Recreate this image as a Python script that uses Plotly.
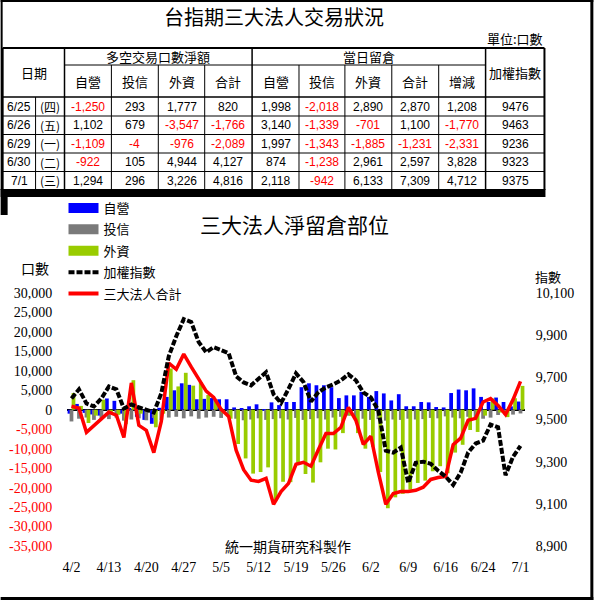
import plotly.graph_objects as go

# ---------------- data: table ----------------
tbl_dates = ["6/25", "6/26", "6/29", "6/30", "7/1"]
tbl_weekdays = ["(四)", "(五)", "(一)", "(二)", "(三)"]
net_dealer = [-1250, 1102, -1109, -922, 1294]
net_trust = [293, 679, -4, 105, 296]
net_foreign = [1777, -3547, -976, 4944, 3226]
net_total = [820, -1766, -2089, 4127, 4816]
oi_dealer = [1998, 3140, 1997, 874, 2118]
oi_trust = [-2018, -1339, -1343, -1238, -942]
oi_foreign = [2890, -701, -1885, 2961, 6133]
oi_total = [2870, 1100, -1231, 2597, 7309]
oi_change = [1208, -1770, -2331, 3828, 4712]
tbl_taiex = [9476, 9463, 9236, 9323, 9375]

# ---------------- data: chart (61 trading days, 4/2 .. 7/1) ----------------
tick_labels = ["4/2", "4/13", "4/20", "4/27", "5/5", "5/12", "5/19", "5/26",
               "6/2", "6/9", "6/16", "6/24", "7/1"]
dealer_oi = [-1000, 1500, -800, -1200, -1500, 2900, 2300, -1000, 400, -1800,
             -2600, -3600, 500, 3300, 5000, 6800, 6400, 2700, 2800, 3000,
             2700, 2700, 600, 400, 900, 1400, -200, 1900, 1200, 2000,
             2000, 5800, 6800, 6300, 6300, 5800, 3000, 3700, 3700, 4600,
             3300, 4800, 4200, 2400, 4000, 900, 900, 2000, 1900, 700,
             600, 4300, 5200, 5000, 5500, 3300, 1998, 3140, 1997, 874, 2118]
trust_oi = [-3000, -2300, -2000, -2600, -2300, -2400, -2000, -2800, -2500, -2200,
            -2700, -2100, -2600, -2000, -1800, -2200, -1700, -2300, -2000, -1800,
            -2100, -1900, -2300, -2700, -2500, -2200, -2600, -2400, -2200, -2500,
            -2100, -2600, -2400, -2200, -2500, -2000, -1800, -1500, -1900, -2300,
            -2600, -2400, -2800, -2500, -2600, -2300, -2500, -2400, -2100, -2200,
            -1700, -2000, -2200, -1800, -2000, -2300, -2018, -1339, -1343, -1238, -942]
foreign_oi = [4300, 1000, -3400, -1500, 2600, -1000, -1300, -3700, 7600, -1000,
              -500, -4500, -1000, 10600, 6000, 9500, 6200, 7100, 3800, 2500,
              -900, -2300, -8800, -12500, -16400, -16000, -14800, -23500, -18500, -18600,
              -14200, -16500, -18700, -13500, -10000, -10200, -6000, -1500, -6000, -10000,
              -9500, -16000, -25300, -22500, -21600, -20500, -18800, -18200, -15800, -14500,
              -16300, -11000, -9000, -5200, -5700, -1500, 2890, -701, -1885, 2961, 6133]
total_oi = [900, 400, -5800, -4000, -2400, -600, -1400, -7100, 6900, -4000,
            -5300, -11000, -3000, 12000, 10400, 14300, 11000, 7800, 4800, 3200,
            100, -1700, -10400, -15400, -18100, -18400, -17600, -24300, -21000, -18900,
            -14000, -13500, -14500, -10200, -6100, -6100, -4500, 600, -2700, -8900,
            -6800, -16000, -24300, -21500, -21000, -21000, -20700, -19900, -17900, -17400,
            -17100, -9000, -7300, -2700, -2200, 2000, 2870, 1100, -1231, 2597, 7309]
taiex = [9600, 9643, 9576, 9562, 9600, 9657, 9643, 9552, 9571, 9557,
         9548, 9533, 9624, 9800, 9895, 9976, 9962, 9867, 9819, 9843,
         9829, 9814, 9705, 9676, 9662, 9695, 9724, 9620, 9578, 9645,
         9719, 9678, 9585, 9630, 9652, 9667, 9686, 9714, 9686, 9628,
         9605, 9543, 9352, 9343, 9367, 9200, 9295, 9300, 9290, 9257,
         9229, 9190, 9248, 9343, 9386, 9400, 9476, 9463, 9236, 9323, 9375]

left_ticks = [30000, 25000, 20000, 15000, 10000, 5000, 0, -5000, -10000,
              -15000, -20000, -25000, -30000, -35000]

# ---------------- layout geometry ----------------
W, H = 594, 600
ML, MR, MT, MB = 66.5, 68.5, 293, 54
PW = W - ML - MR
PH = H - MT - MB

def px(x):
    return (x - ML) / PW

def py(y):
    return (H - MB - y) / PH

CJK = "Noto Sans CJK TC"
SERIF = "Liberation Serif"
SANS = "Liberation Sans"
BLUE, GRAY, GREEN, RED = "#0000FF", "#7A7A7A", "#99CC00", "#FF0000"

days = list(range(len(taiex)))

fig = go.Figure()

# legend-only entries (wide swatches like the original)
legend_items = [("自營", BLUE, 10, "solid"), ("投信", GRAY, 10, "solid"),
                ("外資", GREEN, 10, "solid"), ("加權指數", "black", 4, "6px,2px"),
                ("三大法人合計", RED, 4, "solid")]
for i, (nm, col, lw, dash) in enumerate(legend_items):
    fig.add_trace(go.Scatter(x=[None], y=[None], mode="lines", name=nm,
                             legendgroup=f"g{i}",
                             line=dict(color=col, width=lw, dash=dash)))

bw = 0.5
for vals, col, off in [(dealer_oi, BLUE, -0.27), (trust_oi, GRAY, 0.0),
                       (foreign_oi, GREEN, 0.27)]:
    fig.add_trace(go.Bar(x=days, y=vals, width=bw, offset=off - bw / 2,
                         marker=dict(color=col, line=dict(width=0)),
                         showlegend=False, hoverinfo="skip"))

fig.add_trace(go.Scatter(x=days, y=total_oi, mode="lines", showlegend=False,
                         line=dict(color=RED, width=3.5)))
fig.add_trace(go.Scatter(x=days, y=taiex, mode="lines", yaxis="y2", showlegend=False,
                         line=dict(color="black", width=4, dash="6px,2px")))

left_text = [f"{v:,}" if v >= 0 else f"<span style='color:red'>{v:,}</span>"
             for v in left_ticks]

# ---------------- table (drawn with shapes + annotations) ----------------
col_edges = [2, 35, 64, 111, 158, 204.5, 252, 299, 345, 392, 439, 486, 545]
row_edges = [97, 116, 134.5, 153, 171.5, 190]
T_TOP, T_H1 = 48, 65

shapes = []

def line(x0, y0, x1, y1, w=1, c="black"):
    shapes.append(dict(type="line", xref="paper", yref="paper",
                       x0=px(x0), y0=py(y0), x1=px(x1), y1=py(y1),
                       line=dict(color=c, width=w)))

def rect(x0, y0, x1, y1, c="black"):
    shapes.append(dict(type="rect", xref="paper", yref="paper",
                       x0=px(x0), y0=py(y0), x1=px(x1), y1=py(y1),
                       line=dict(width=0), fillcolor=c))

# outer table frame
line(col_edges[0], T_TOP, col_edges[-1], T_TOP, 2)
line(col_edges[0], T_TOP, col_edges[0], row_edges[-1], 2)
line(col_edges[-1], T_TOP, col_edges[-1], row_edges[-1], 2)
line(col_edges[2], T_H1, col_edges[11], T_H1, 1)
for k, y in enumerate(row_edges[:-1]):
    line(col_edges[0], y, col_edges[-1], y, 1.5 if k == 0 else 1)
line(col_edges[1], row_edges[0], col_edges[1], row_edges[-1], 1)
for k in (2, 6, 11):
    line(col_edges[k], T_TOP, col_edges[k], row_edges[-1], 1.5)
for k in (3, 4, 5, 7, 8, 9, 10):
    line(col_edges[k], T_H1, col_edges[k], row_edges[-1], 1)
# shadow / frame pieces
rect(0, 189, 546, 197)
rect(0, 189, 7, 215)
line(1, 0, 1, 190, 2)
line(0, 1, W, 1, 2)
line(W - 1.5, 0, W - 1.5, H, 3)
line(0, H - 1.5, W, H - 1.5, 3)

annotations = []

def ann(x, y, text, size, color="black", family=CJK, xanchor="center"):
    annotations.append(dict(x=px(x), y=py(y), xref="paper", yref="paper",
                            text=text, showarrow=False, xanchor=xanchor,
                            yanchor="middle",
                            font=dict(size=size, color=color, family=family)))

ann(274, 16, "台指期三大法人交易狀況", 20)
ann(515, 38, "單位:口數", 13)
ann(33, 72.5, "日期", 13)
ann((col_edges[2] + col_edges[6]) / 2, 56.5, "多空交易口數淨額", 13)
ann((col_edges[6] + col_edges[11]) / 2, 56.5, "當日留倉", 13)
ann((col_edges[11] + col_edges[12]) / 2, 72.5, "加權指數", 13)
sub_heads = ["自營", "投信", "外資", "合計", "自營", "投信", "外資", "合計", "增減"]
for k, t in enumerate(sub_heads):
    ann((col_edges[2 + k] + col_edges[3 + k]) / 2, 81, t, 13)

columns = [net_dealer, net_trust, net_foreign, net_total,
           oi_dealer, oi_trust, oi_foreign, oi_total, oi_change]
for r in range(len(tbl_dates)):
    yc = (row_edges[r] + row_edges[r + 1]) / 2
    ann((col_edges[0] + col_edges[1]) / 2, yc, tbl_dates[r], 12, family=SANS)
    ann((col_edges[1] + col_edges[2]) / 2, yc, tbl_weekdays[r], 12)
    for k, colvals in enumerate(columns):
        v = colvals[r]
        ann((col_edges[2 + k] + col_edges[3 + k]) / 2, yc, f"{v:,}", 12,
            color=RED if v < 0 else "black", family=SANS)
    ann((col_edges[11] + col_edges[12]) / 2, yc, str(tbl_taiex[r]), 12, family=SANS)

# chart texts
ann(294, 224, "三大法人淨留倉部位", 21)
ann(34, 268, "口數", 14)
ann(549, 276, "指數", 13)
ann(288, 546, "統一期貨研究科製作", 14)

fig.update_layout(
    width=W, height=H,
    margin=dict(l=ML, r=MR, t=MT, b=MB, pad=0),
    paper_bgcolor="white", plot_bgcolor="white",
    barmode="overlay",
    showlegend=True,
    legend=dict(x=px(63), y=py(193), xanchor="left", yanchor="top",
                bgcolor="rgba(0,0,0,0)", traceorder="grouped", tracegroupgap=1.5,
                font=dict(family=CJK, size=13, color="black")),
    xaxis=dict(range=[-0.6, len(days) - 0.4], tickmode="array",
               tickvals=days[::5], ticktext=tick_labels,
               ticks="outside", ticklen=8, tickcolor="rgba(0,0,0,0)",
               showgrid=False, zeroline=False, showline=False, automargin=False,
               tickfont=dict(family=SERIF, size=14, color="black")),
    yaxis=dict(range=[-35000, 30000], tickmode="array", tickvals=left_ticks,
               ticktext=left_text, ticks="outside", ticklen=11,
               tickcolor="rgba(0,0,0,0)", showgrid=False, zeroline=True,
               zerolinecolor="black", zerolinewidth=1.5, showline=False,
               automargin=False,
               tickfont=dict(family=SERIF, size=14, color="black")),
    yaxis2=dict(range=[8900, 10100], overlaying="y", side="right",
                tick0=8900, dtick=200, tickformat=",d", ticks="outside",
                ticklen=7, tickcolor="rgba(0,0,0,0)", showgrid=False,
                zeroline=False, showline=False, automargin=False,
                tickfont=dict(family=SERIF, size=14, color="black")),
    shapes=shapes,
    annotations=annotations,
    hovermode=False,
)

fig.write_html("out.html", config={"displayModeBar": False},
               post_script="document.body.style.margin='0';document.body.style.overflow='hidden';")
